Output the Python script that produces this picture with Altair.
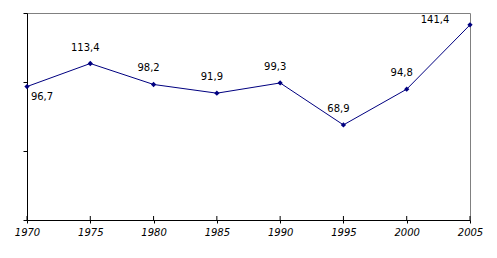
import altair as alt
import pandas as pd

years = [1970, 1975, 1980, 1985, 1990, 1995, 2000, 2005]
values = [96.7, 113.4, 98.2, 91.9, 99.3, 68.9, 94.8, 141.4]
labels = ["96,7", "113,4", "98,2", "91,9", "99,3", "68,9", "94,8", "141,4"]
y_ticks = [0, 50, 100, 150]

df = pd.DataFrame({"year": years, "value": values, "label": labels})

W, H = 443, 207
FONT = "DejaVu Sans"

x = alt.X("year:Q", scale=alt.Scale(domain=[1970, 2005], nice=False, zero=False),
          axis=alt.Axis(values=years, format="d", title=None, grid=False,
                        labelFontStyle="italic", labelFont=FONT, labelFontSize=10,
                        labelColor="black", domainColor="black", tickColor="black",
                        tickSize=3, labelPadding=4, labelFlush=False))
y = alt.Y("value:Q", scale=alt.Scale(domain=[0, 150], nice=False),
          axis=alt.Axis(values=y_ticks, labels=False, title=None, grid=False,
                        domainColor="black", tickColor="black", tickSize=4))

base = alt.Chart(df)

line = base.mark_line(color="#000080", strokeWidth=1).encode(x=x, y=y)
pts = base.mark_point(shape="diamond", filled=True, color="#000080", size=28, opacity=1).encode(x=x, y=y)

inner_ticks = base.mark_rule(color="black").encode(
    x=alt.X("year:Q"), y=alt.value(H - 4), y2=alt.value(H))

mid = base.transform_filter(
    (alt.datum.year > 1970) & (alt.datum.year < 2005)
).mark_text(font=FONT, fontSize=10, color="black", dx=-5, dy=-16).encode(x=x, y=y, text="label:N")
first = base.transform_filter(alt.datum.year == 1970).mark_text(
    font=FONT, fontSize=10, color="black", dx=15, dy=10).encode(x=x, y=y, text="label:N")
last = base.transform_filter(alt.datum.year == 2005).mark_text(
    font=FONT, fontSize=10, color="black", dx=-35, dy=-5).encode(x=x, y=y, text="label:N")

chart = alt.layer(line, pts, inner_ticks, mid, first, last).properties(
    width=W, height=H,
    autosize=alt.AutoSizeParams(type="none"),
    padding={"left": 27, "top": 13, "right": 27, "bottom": 38},
    background="white",
).configure_view(stroke="#808080", strokeWidth=1)

chart.save("out.html", embed_options={"renderer": "svg", "actions": False})
